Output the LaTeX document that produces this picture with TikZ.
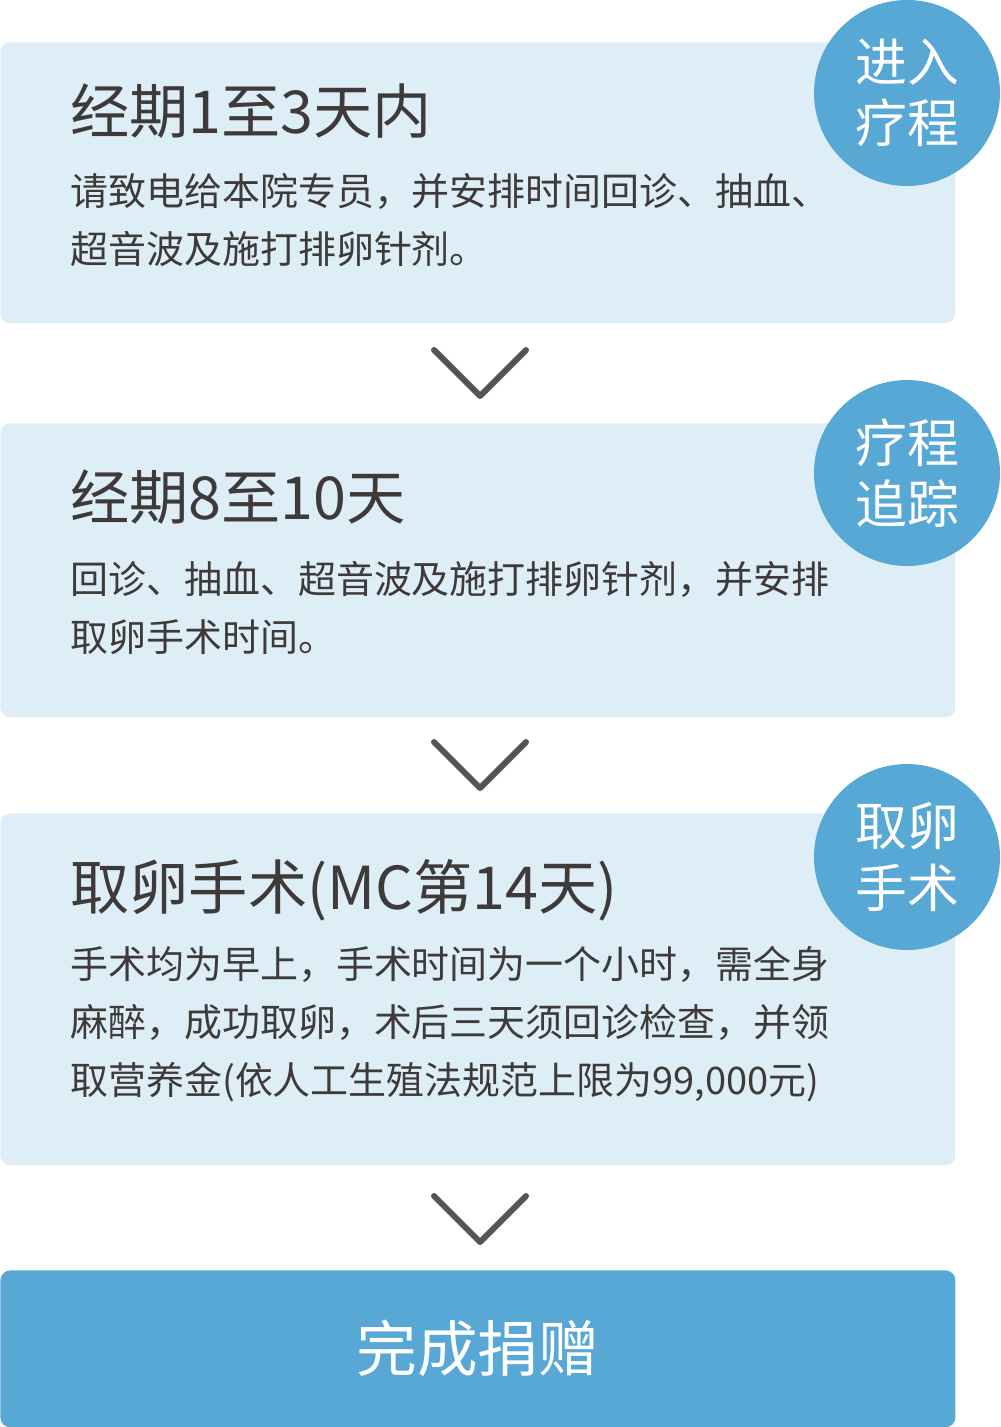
\documentclass[tikz,border=0pt]{standalone}
\usepackage{fontspec}
\setmainfont{Noto Sans CJK SC}
\usetikzlibrary{positioning}
\definecolor{paleblue}{RGB}{222,238,247}
\definecolor{badgeblue}{RGB}{88,168,213}
\definecolor{chevgray}{RGB}{85,85,85}
\definecolor{ink}{RGB}{62,58,57}

\tikzset{
  stepbox/.style={fill=paleblue, rounded corners=2mm, inner sep=0pt, minimum width=191mm, anchor=north west},
  badge/.style={circle, fill=badgeblue, text=white, minimum size=37.2mm, inner sep=0pt, align=center,
    font=\fontsize{29.5pt}{35pt}\selectfont},
  steptitle/.style={anchor=west, inner sep=0pt, text=ink, font=\fontsize{33.7pt}{40pt}\selectfont},
  stepnote/.style={anchor=north west, inner sep=0pt, align=left, text=ink, font=\fontsize{21.6pt}{32.9pt}\selectfont},
  chev/.style={draw=chevgray, line width=1.2mm, line cap=round, line join=round}
}

\begin{document}
\begin{tikzpicture}[x=0.2mm, y=-0.2mm]
    \useasboundingbox (0,0) rectangle (1000,1427);

    % Ba khung xanh nhat cho ba buoc
    \node[stepbox, minimum height=56.2mm] (box1) at (0,42) {};
    \node[stepbox, minimum height=58.8mm] (box2) at (0,423) {};
    \node[stepbox, minimum height=70.4mm] (box3) at (0,813) {};

    % Khung cuoi "hoan thanh"
    \node[stepbox, fill=badgeblue, minimum height=31.4mm, text=white,
      font=\fontsize{34.5pt}{40pt}\selectfont] (done) at (0,1270) {完成捐赠};

    % Vong tron ghi ten buoc
    \node[badge] (badge1) at (907,93) {进入\\疗程};
    \node[badge] (badge2) at (907,473) {疗程\\追踪};
    \node[badge] (badge3) at (907,857) {取卵\\手术};

    % Buoc 1
    \node[steptitle] (title1) at (70,111) {经期1至3天内};
    \node[stepnote] (note1) at (70,173) {请致电给本院专员，并安排时间回诊、抽血、\\超音波及施打排卵针剂。};

    % Buoc 2
    \node[steptitle] (title2) at (70,497) {经期8至10天};
    \node[stepnote] (note2) at (70,561) {回诊、抽血、超音波及施打排卵针剂，并安排\\取卵手术时间。};

    % Buoc 3
    \node[steptitle] (title3) at (70,890) {取卵手术(MC第14天)};
    \node[stepnote] (note3) at (70,946) {手术均为早上，手术时间为一个小时，需全身\\麻醉，成功取卵，术后三天须回诊检查，并领\\取营养金(依人工生殖法规范上限为99,000元)};

    % Mui ten hinh chu V giua cac khung
    \coordinate (tip1) at (480,396);
    \coordinate (tip2) at (480,788);
    \coordinate (tip3) at (480,1242);
    \draw[chev] (tip1) ++(-46,-46) -- (tip1) -- ++(46,-46);
    \draw[chev] (tip2) ++(-46,-46) -- (tip2) -- ++(46,-46);
    \draw[chev] (tip3) ++(-46,-46) -- (tip3) -- ++(46,-46);
\end{tikzpicture}
\end{document}
